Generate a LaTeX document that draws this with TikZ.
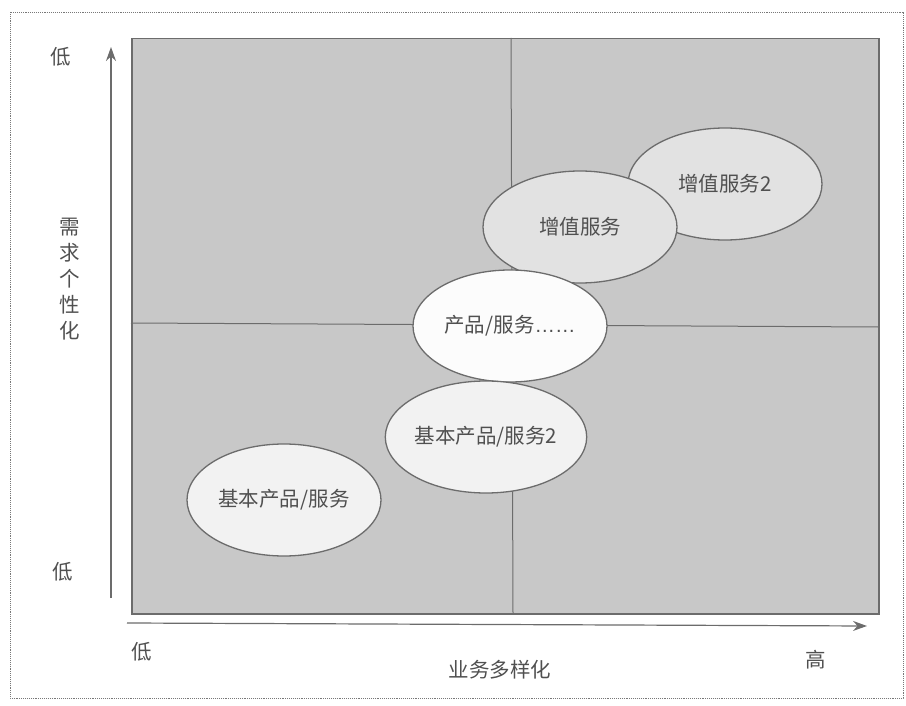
\documentclass[tikz,border=0pt]{standalone}
\usepackage{fontspec}
\setmainfont{Noto Sans CJK SC}
\newfontfamily\latinf{Liberation Sans}
\usetikzlibrary{arrows.meta,shapes.geometric}
\definecolor{boxfill}{RGB}{200,200,200}
\definecolor{edgegray}{RGB}{108,108,108}
\definecolor{txtgray}{RGB}{80,80,80}
\definecolor{dotgray}{RGB}{120,120,120}
\definecolor{fillA}{RGB}{226,226,226}
\definecolor{fillB}{RGB}{252,252,252}
\definecolor{fillC}{RGB}{242,242,242}
\tikzset{
  lbl/.style={text=txtgray,font=\fontsize{20.5}{26}\selectfont,inner sep=0pt},
  bubble/.style={ellipse,draw=edgegray,line width=1.3pt,minimum width=194pt,
    minimum height=112pt,inner sep=0pt,text=txtgray,font=\fontsize{20.5}{24}\selectfont},
  axisline/.style={draw=edgegray,line width=1.2pt},
  axisarrow/.style={axisline,-{Stealth[length=14pt,width=10pt]}},
  divider/.style={draw=edgegray,line width=1pt}
}
\begin{document}
\begin{tikzpicture}[x=1pt,y=-1pt]
\useasboundingbox (0,0) rectangle (906,706);
% outer dotted frame
\draw[dotgray,densely dotted,line width=0.9pt] (10,12) rectangle (903,698);
% quadrant box
\node[draw=edgegray,line width=1.5pt,fill=boxfill,minimum width=747pt,minimum height=575pt,inner sep=0pt,anchor=north west] (box) at (131,38) {};
\coordinate (vt) at (511,38);
\coordinate (vb) at (513,613);
\coordinate (hl) at (131,323);
\coordinate (hr) at (878,327);
\draw[divider] (vt) -- (vb);
\draw[divider] (hl) -- (hr);
% axes
\coordinate (ys) at (111,598);
\coordinate (ye) at (111,47);
\coordinate (xs) at (127,623);
\coordinate (xe) at (867,626);
\draw[axisarrow] (ys) -- (ye);
\draw[axisarrow] (xs) -- (xe);
% axis labels
\node[lbl] (ylow1) at (61,57) {低};
\node[lbl,align=center] (ytitle) at (70,279) {需\\求\\个\\性\\化};
\node[lbl] (ylow2) at (63,572) {低};
\node[lbl] (xlow) at (142,652) {低};
\node[lbl] (xtitle) at (500,670) {业务多样化};
\node[lbl] (xhigh) at (816,660) {高};
% bubbles
\node[bubble,fill=fillA] (vas2) at (725,184) {增值服务2};
\node[bubble,fill=fillA] (vas) at (580,227) {增值服务};
\node[bubble,fill=fillB] (ps) at (510,326) {产品/服务{\latinf ……}};
\node[bubble,fill=fillC] (bps2) at (486,437) {基本产品/服务2};
\node[bubble,fill=fillC] (bps) at (284,500) {基本产品/服务};
\end{tikzpicture}
\end{document}
